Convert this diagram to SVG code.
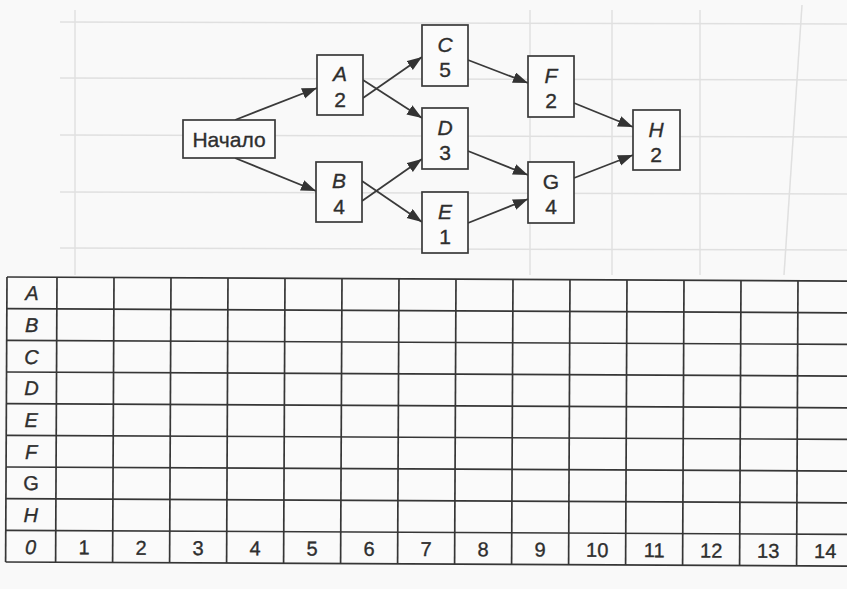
<svg xmlns="http://www.w3.org/2000/svg" width="847" height="589" viewBox="0 0 847 589">
  <style>
    .box { fill: #fbfbfb; stroke: #3a3a3a; stroke-width: 1.7; }
    .lbl { font-family: "Liberation Sans", Arial, sans-serif; font-size: 21px; fill: #2e2e2e; stroke: #2e2e2e; stroke-width: 0.35; text-anchor: middle; }
    .it { font-style: italic; }
    .edge { fill: none; stroke: #3a3a3a; stroke-width: 1.8; marker-end: url(#arrow); }
    .grid line { stroke: #363636; stroke-width: 1.7; }
    .cell { font-family: "Liberation Sans", Arial, sans-serif; font-size: 20px; fill: #2e2e2e; stroke: #2e2e2e; stroke-width: 0.35; text-anchor: middle; }
    .faint { stroke: #e0e0e0; stroke-width: 1.5; fill: none; }
  </style>
  <defs>
    <marker id="arrow" markerUnits="userSpaceOnUse" markerWidth="16" markerHeight="12" refX="15" refY="5.5" orient="auto">
      <path d="M0,0 L15,5.5 L0,11 Z" fill="#333"/>
    </marker>
  </defs>

  <!-- paper -->
  <rect x="0" y="0" width="847" height="589" fill="#f9f9f9"/>
  <g id="paper-ruling" class="faint">
    <line x1="60" y1="22" x2="847" y2="24"/>
    <line x1="60" y1="78" x2="847" y2="80"/>
    <line x1="60" y1="135" x2="847" y2="137"/>
    <line x1="60" y1="192" x2="847" y2="194"/>
    <line x1="60" y1="248" x2="847" y2="250"/>
    <line x1="75" y1="10" x2="75" y2="275"/>
    <line x1="530" y1="10" x2="530" y2="275"/>
    <line x1="612" y1="10" x2="612" y2="275"/>
    <line x1="700" y1="10" x2="700" y2="275"/>
    <line x1="802" y1="5" x2="784" y2="275"/>
  </g>

  <!-- connectors -->
  <g id="connectors">
    <line class="edge" x1="235" y1="120" x2="317" y2="88"/>
    <line class="edge" x1="235" y1="158" x2="316" y2="191"/>
    <line class="edge" x1="363" y1="98" x2="422" y2="57"/>
    <line class="edge" x1="363" y1="80" x2="422" y2="118"/>
    <line class="edge" x1="362" y1="201" x2="422" y2="159"/>
    <line class="edge" x1="362" y1="181" x2="422" y2="222"/>
    <line class="edge" x1="468" y1="60" x2="528" y2="83"/>
    <line class="edge" x1="468" y1="151" x2="528" y2="175"/>
    <line class="edge" x1="468" y1="223" x2="528" y2="199"/>
    <line class="edge" x1="574" y1="103" x2="633" y2="127"/>
    <line class="edge" x1="574" y1="178" x2="633" y2="155"/>
  </g>

  <!-- nodes -->
  <g id="start">
    <rect class="box" x="183" y="120" width="92" height="38"/>
    <text class="lbl" x="229" y="147">Начало</text>
  </g>
  <g id="node-A">
    <rect class="box" x="317" y="55" width="46" height="60"/>
    <text class="lbl it" x="340" y="81">A</text>
    <text class="lbl" x="340" y="107">2</text>
  </g>
  <g id="node-B">
    <rect class="box" x="316" y="162" width="46" height="60"/>
    <text class="lbl it" x="339" y="188">B</text>
    <text class="lbl" x="339" y="214">4</text>
  </g>
  <g id="node-C">
    <rect class="box" x="422" y="25" width="46" height="61"/>
    <text class="lbl it" x="445" y="52">C</text>
    <text class="lbl" x="445" y="77">5</text>
  </g>
  <g id="node-D">
    <rect class="box" x="422" y="108" width="46" height="61"/>
    <text class="lbl it" x="445" y="135">D</text>
    <text class="lbl" x="445" y="160">3</text>
  </g>
  <g id="node-E">
    <rect class="box" x="422" y="192" width="46" height="61"/>
    <text class="lbl it" x="445" y="219">E</text>
    <text class="lbl" x="445" y="244">1</text>
  </g>
  <g id="node-F">
    <rect class="box" x="528" y="56" width="46" height="61"/>
    <text class="lbl it" x="551" y="83">F</text>
    <text class="lbl" x="551" y="108">2</text>
  </g>
  <g id="node-G">
    <rect class="box" x="528" y="162" width="46" height="61"/>
    <text class="lbl" x="551" y="189">G</text>
    <text class="lbl" x="551" y="214">4</text>
  </g>
  <g id="node-H">
    <rect class="box" x="633" y="110" width="47" height="60"/>
    <text class="lbl it" x="656" y="137">H</text>
    <text class="lbl" x="656" y="162">2</text>
  </g>

  <!-- schedule grid: 8 task rows plus a time row, columns 0..14 -->
  <g id="schedule" transform="rotate(0.28 7 277)">
    <rect x="7" y="277" width="860" height="285" fill="#fbfbfb" opacity="0.5"/>
    <g class="grid">
      <line x1="7" y1="277" x2="860" y2="277"/>
      <line x1="7" y1="308.7" x2="860" y2="308.7"/>
      <line x1="7" y1="340.3" x2="860" y2="340.3"/>
      <line x1="7" y1="372" x2="860" y2="372"/>
      <line x1="7" y1="403.7" x2="860" y2="403.7"/>
      <line x1="7" y1="435.3" x2="860" y2="435.3"/>
      <line x1="7" y1="467" x2="860" y2="467"/>
      <line x1="7" y1="498.7" x2="860" y2="498.7"/>
      <line x1="7" y1="530.3" x2="860" y2="530.3"/>
      <line x1="7" y1="562" x2="860" y2="562"/>
      <line x1="7" y1="277" x2="7" y2="562"/>
      <line x1="57" y1="277" x2="57" y2="562"/>
      <line x1="114" y1="277" x2="114" y2="562"/>
      <line x1="171" y1="277" x2="171" y2="562"/>
      <line x1="228" y1="277" x2="228" y2="562"/>
      <line x1="285" y1="277" x2="285" y2="562"/>
      <line x1="342" y1="277" x2="342" y2="562"/>
      <line x1="399" y1="277" x2="399" y2="562"/>
      <line x1="456" y1="277" x2="456" y2="562"/>
      <line x1="513" y1="277" x2="513" y2="562"/>
      <line x1="570" y1="277" x2="570" y2="562"/>
      <line x1="627" y1="277" x2="627" y2="562"/>
      <line x1="684" y1="277" x2="684" y2="562"/>
      <line x1="741" y1="277" x2="741" y2="562"/>
      <line x1="798" y1="277" x2="798" y2="562"/>
    </g>
    <g id="row-labels">
      <text class="cell it" x="32" y="300">A</text>
      <text class="cell it" x="32" y="332">B</text>
      <text class="cell it" x="32" y="364">C</text>
      <text class="cell it" x="32" y="395">D</text>
      <text class="cell it" x="32" y="427">E</text>
      <text class="cell it" x="32" y="459">F</text>
      <text class="cell" x="32" y="490">G</text>
      <text class="cell it" x="32" y="522">H</text>
      <text class="cell it" x="32" y="554">0</text>
    </g>
    <g id="time-labels">
      <text class="cell" x="85.5" y="554">1</text>
      <text class="cell" x="142.5" y="554">2</text>
      <text class="cell" x="199.5" y="554">3</text>
      <text class="cell" x="256.5" y="554">4</text>
      <text class="cell" x="313.5" y="554">5</text>
      <text class="cell" x="370.5" y="554">6</text>
      <text class="cell" x="427.5" y="554">7</text>
      <text class="cell" x="484.5" y="554">8</text>
      <text class="cell" x="541.5" y="554">9</text>
      <text class="cell" x="598.5" y="554">10</text>
      <text class="cell" x="655.5" y="554">11</text>
      <text class="cell" x="712.5" y="554">12</text>
      <text class="cell" x="769.5" y="554">13</text>
      <text class="cell" x="826.5" y="554">14</text>
    </g>
  </g>
</svg>
